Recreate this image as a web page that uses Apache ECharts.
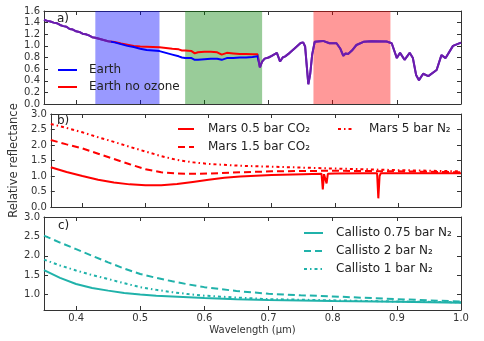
<!DOCTYPE html>
<html><head><meta charset="utf-8">
<script src="https://cdn.jsdelivr.net/npm/echarts@6/dist/echarts.min.js"></script>
<style>html,body{margin:0;padding:0;background:#fff}#c{width:484px;height:341px}</style>
</head><body><div id="c"></div>
<script>
// ---------- data ----------
const wavelengthEarth = [0.350,0.355,0.360,0.365,0.370,0.375,0.380,0.385,0.390,0.395,0.400,0.405,0.410,0.415,0.420,0.425,0.430,0.440,0.450,0.460,0.470,0.480,0.490,0.500,0.510,0.520,0.530,0.540,0.550,0.560,0.565,0.570,0.580,0.585,0.590,0.600,0.610,0.620,0.627,0.635,0.645,0.655,0.665,0.675,0.683,0.6865,0.690,0.694,0.700,0.705,0.713,0.718,0.722,0.726,0.733,0.741,0.750,0.754,0.757,0.760,0.762,0.765,0.768,0.772,0.785,0.795,0.806,0.812,0.8165,0.820,0.824,0.830,0.837,0.848,0.860,0.884,0.892,0.900,0.905,0.912,0.920,0.925,0.930,0.9345,0.941,0.949,0.962,0.9695,0.976,0.9875,1.000];
const earth = [1.45,1.43,1.42,1.40,1.39,1.36,1.34,1.33,1.29,1.28,1.25,1.24,1.21,1.20,1.18,1.15,1.14,1.11,1.08,1.06,1.03,1.00,0.98,0.95,0.93,0.92,0.91,0.88,0.85,0.82,0.80,0.79,0.79,0.76,0.76,0.77,0.78,0.78,0.76,0.79,0.79,0.80,0.80,0.81,0.82,0.63,0.73,0.78,0.80,0.83,0.88,0.73,0.80,0.82,0.88,0.96,1.05,1.06,0.99,0.60,0.34,0.52,0.85,1.07,1.085,1.045,1.045,0.95,0.83,0.87,0.86,0.92,1.015,1.07,1.08,1.075,1.045,0.79,0.88,0.76,0.88,0.79,0.50,0.41,0.52,0.48,0.585,0.84,0.79,1.00,1.055];
const earthNoOzone = [1.45,1.43,1.42,1.40,1.39,1.36,1.34,1.33,1.29,1.28,1.25,1.24,1.21,1.20,1.18,1.15,1.14,1.11,1.08,1.065,1.04,1.02,1.00,0.99,0.985,0.98,0.975,0.965,0.95,0.94,0.92,0.92,0.91,0.87,0.89,0.90,0.90,0.89,0.85,0.88,0.87,0.86,0.86,0.855,0.855,0.63,0.73,0.78,0.80,0.83,0.88,0.73,0.80,0.82,0.88,0.96,1.05,1.06,0.99,0.60,0.34,0.52,0.85,1.07,1.085,1.045,1.045,0.95,0.83,0.87,0.86,0.92,1.015,1.07,1.08,1.075,1.045,0.79,0.88,0.76,0.88,0.79,0.50,0.41,0.52,0.48,0.585,0.84,0.79,1.00,1.055];
const bandBlue = [0.43, 0.53];
const bandGreen = [0.57, 0.69];
const bandRed = [0.77, 0.89];

const wavelengthMars05 = [0.35,0.375,0.40,0.425,0.45,0.475,0.50,0.525,0.55,0.575,0.60,0.625,0.65,0.70,0.75,0.779,0.781,0.783,0.786,0.787,0.789,0.80,0.85,0.867,0.869,0.871,0.873,0.90,0.95,1.00];
const mars05 = [1.28,1.13,1.00,0.88,0.79,0.73,0.70,0.70,0.74,0.81,0.88,0.94,0.98,1.03,1.06,1.07,0.57,1.06,1.07,0.76,1.07,1.08,1.09,1.09,0.28,1.00,1.09,1.09,1.09,1.09];
const wavelengthMars = [0.35,0.375,0.40,0.425,0.45,0.475,0.50,0.525,0.55,0.575,0.60,0.65,0.70,0.80,0.90,1.00];
const mars15 = [2.16,2.02,1.89,1.72,1.55,1.38,1.22,1.12,1.08,1.07,1.08,1.12,1.15,1.17,1.15,1.12];
const mars5N2 = [2.68,2.55,2.41,2.25,2.10,1.94,1.79,1.64,1.52,1.44,1.39,1.33,1.30,1.24,1.19,1.15];

const wavelengthCallisto = [0.35,0.375,0.40,0.425,0.45,0.475,0.50,0.525,0.55,0.575,0.60,0.65,0.70,0.75,0.80,0.90,1.00];
const callisto075 = [1.63,1.43,1.27,1.17,1.10,1.04,1.00,0.97,0.95,0.93,0.91,0.88,0.86,0.845,0.83,0.81,0.79];
const callisto2 = [2.52,2.34,2.17,2.00,1.83,1.67,1.53,1.43,1.34,1.26,1.19,1.09,1.02,0.98,0.95,0.88,0.82];
const callisto1 = [1.90,1.75,1.62,1.50,1.40,1.29,1.19,1.12,1.06,1.01,0.97,0.92,0.88,0.865,0.85,0.82,0.80];

const xTicks = [0.4,0.5,0.6,0.7,0.8,0.9,1.0];
const cTicks = [1.0,1.5,2.0,2.5,3.0];

// ---------- chart ----------
const FONT = 'DejaVu Sans';
const AX = '#333';
const zip = (xs, ys) => xs.map((x, i) => [x, ys[i]]);
const chart = echarts.init(document.getElementById('c'), null, {renderer: 'canvas'});

const grids = [
  {left: 44, width: 417, top: 11, height: 93},
  {left: 44, width: 417, top: 114, height: 93},
  {left: 44, width: 417, top: 217, height: 93}
];

function xAx(g, pos, labels, name) {
  const o = {
    type: 'value', gridIndex: g, position: pos, min: 0.35, max: 1.0,
    axisLine: {show: true, onZero: false, lineStyle: {color: AX, width: 1}},
    axisTick: {show: true, inside: true, length: 4, customValues: xTicks, lineStyle: {color: AX}},
    axisLabel: {show: labels, customValues: xTicks, formatter: v => v.toFixed(1), fontSize: 10, fontFamily: FONT, color: '#333', margin: 3},
    splitLine: {show: false}
  };
  if (name) {
    o.name = name; o.nameLocation = 'middle'; o.nameGap = 15;
    o.nameTextStyle = {fontSize: 10, fontFamily: FONT, color: '#333'};
  }
  return o;
}
function yAx(g, pos, labels, min, max, interval, custom, name) {
  const o = {
    type: 'value', gridIndex: g, position: pos, min: min, max: max,
    axisLine: {show: true, onZero: false, lineStyle: {color: AX, width: 1}},
    axisTick: {show: true, inside: true, length: 4, lineStyle: {color: AX}},
    axisLabel: {show: labels, formatter: v => v.toFixed(1), fontSize: 10, fontFamily: FONT, color: '#333', margin: 4},
    splitLine: {show: false}
  };
  if (interval) o.interval = interval;
  if (custom) { o.axisTick.customValues = custom; o.axisLabel.customValues = custom; }
  if (name) {
    o.name = name; o.nameLocation = 'middle'; o.nameGap = 25;
    o.nameTextStyle = {fontSize: 11.5, fontFamily: FONT, color: '#333'};
  }
  return o;
}

const xAxis = [
  xAx(0, 'bottom', false), xAx(0, 'top', false),
  xAx(1, 'bottom', false), xAx(1, 'top', false),
  xAx(2, 'bottom', true, 'Wavelength (\u03bcm)'), xAx(2, 'top', false)
];
const yAxis = [
  yAx(0, 'left', true, 0, 1.6, 0.2), yAx(0, 'right', false, 0, 1.6, 0.2),
  yAx(1, 'left', true, 0, 3.0, 0.5, null, 'Relative reflectance'), yAx(1, 'right', false, 0, 3.0, 0.5),
  yAx(2, 'left', true, 0.6, 3.0, null, cTicks), yAx(2, 'right', false, 0.6, 3.0, null, cTicks)
];

const PURPLE = '#6a1cae';
const RED = '#ff0000', BLUE = '#0000ff', TEAL = '#20b2aa';
function line(name, xi, yi, data, color, type, width) {
  const s = {
    name: name, type: 'line', xAxisIndex: xi, yAxisIndex: yi, data: data,
    showSymbol: false, symbol: 'none', animation: false, z: 3,
    lineStyle: {width: width || 2, type: type || 'solid'}
  };
  if (color) { s.color = color; s.lineStyle.color = color; }
  return s;
}
const DASH = [7, 4];
const DASHDOT = [3, 3, 1.5, 3];

const series = [
  Object.assign(line('Earth no ozone', 0, 0, zip(wavelengthEarth, earthNoOzone), null), {
    markArea: {
      silent: true,
      data: [
        [{xAxis: bandBlue[0], itemStyle: {color: 'rgba(0,0,255,0.4)'}}, {xAxis: bandBlue[1]}],
        [{xAxis: bandGreen[0], itemStyle: {color: 'rgba(0,128,0,0.4)'}}, {xAxis: bandGreen[1]}],
        [{xAxis: bandRed[0], itemStyle: {color: 'rgba(255,0,0,0.4)'}}, {xAxis: bandRed[1]}]
      ]
    }
  }),
  line('Earth', 0, 0, zip(wavelengthEarth, earth), null),
  line('Mars 0.5 bar CO\u2082', 2, 2, zip(wavelengthMars05, mars05), RED),
  line('Mars 1.5 bar CO\u2082', 2, 2, zip(wavelengthMars, mars15), RED, DASH),
  line('Mars 5 bar N\u2082', 2, 2, zip(wavelengthMars, mars5N2), RED, DASHDOT),
  line('Callisto 0.75 bar N\u2082', 4, 4, zip(wavelengthCallisto, callisto075), TEAL),
  line('Callisto 2 bar N\u2082', 4, 4, zip(wavelengthCallisto, callisto2), TEAL, DASH),
  line('Callisto 1 bar N\u2082', 4, 4, zip(wavelengthCallisto, callisto1), TEAL, DASHDOT)
];

const visualMap = [
  {type: 'piecewise', show: false, seriesIndex: 0, dimension: 0,
   pieces: [{lt: 0.455, color: PURPLE}, {gte: 0.455, lt: 0.684, color: RED}, {gte: 0.684, color: PURPLE}]},
  {type: 'piecewise', show: false, seriesIndex: 1, dimension: 0,
   pieces: [{lt: 0.455, color: PURPLE}, {gte: 0.455, lt: 0.684, color: BLUE}, {gte: 0.684, color: PURPLE}]}
];

function leg(name, left, top, w, pad, color) {
  const item = {name: name};
  if (color) { item.lineStyle = {color: color}; item.itemStyle = {color: color, opacity: 0}; }
  return {
    data: [item], left: left, top: top, padding: 0, itemWidth: w, itemHeight: 10,
    selectedMode: false,
    itemStyle: {opacity: 0},
    textStyle: {fontSize: 12, fontFamily: FONT, color: '#222', lineHeight: 14, padding: [0, 0, 0, pad]}
  };
}
const legend = [
  leg('Earth', 57, 63, 19, 7, BLUE),
  leg('Earth no ozone', 57, 80, 19, 7, RED),
  leg('Mars 0.5 bar CO\u2082', 177, 122, 16, 9),
  leg('Mars 1.5 bar CO\u2082', 177, 140, 16, 9),
  leg('Mars 5 bar N\u2082', 337, 122, 15, 11),
  leg('Callisto 0.75 bar N\u2082', 303, 226, 19, 8),
  leg('Callisto 2 bar N\u2082', 303, 244, 19, 8),
  leg('Callisto 1 bar N\u2082', 303, 262, 19, 8)
];

const lbl = (t, x, y) => ({type: 'text', left: x, top: y, style: {text: t, fontSize: 12, fontFamily: FONT, fill: '#222'}});

chart.setOption({
  animation: false,
  backgroundColor: '#fff',
  grid: grids, xAxis: xAxis, yAxis: yAxis, series: series, visualMap: visualMap, legend: legend,
  graphic: [lbl('a)', 57, 13), lbl('b)', 57, 115), lbl('c)', 58, 220)]
});
</script>
</body></html>
